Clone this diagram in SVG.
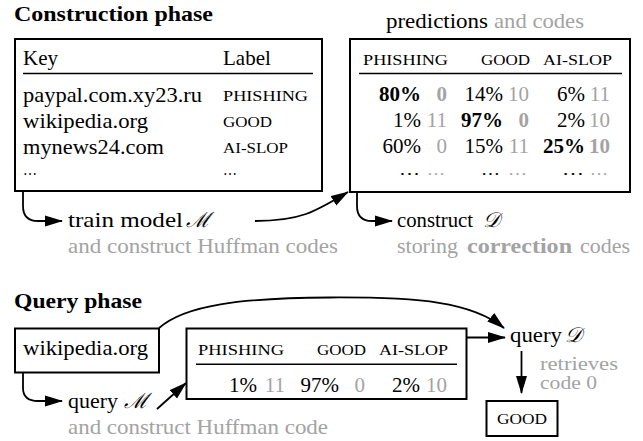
<svg xmlns="http://www.w3.org/2000/svg" width="643" height="441" viewBox="0 0 643 441" font-family="'Liberation Serif', Tinos, 'Times New Roman', 'DejaVu Serif', serif">
<defs>
<marker id="ah" viewBox="0 0 18 12" markerWidth="18" markerHeight="12" refX="17" refY="6" orient="auto" markerUnits="userSpaceOnUse">
<path d="M0,0.5 L18,6 L0,11.5 Z" fill="#000"/>
</marker>
<style>
text{font-size:21px;fill:#000}
.b{font-weight:bold}
.g{fill:#a3a3a3}
.sc{font-size:15.5px}
.d{font-size:17px}
.m{font-style:italic}
.e{text-anchor:end}
.box{fill:#fff;stroke:#000;stroke-width:2}
.rule{stroke:#000;stroke-width:1.6}
.c{fill:none;stroke:#000;stroke-width:1.8}
</style>
</defs>

<g id="construction-title"><text class="b" x="14" y="21" textLength="199" lengthAdjust="spacingAndGlyphs">Construction phase</text></g>

<g id="key-table">
<rect class="box" x="15" y="39" width="307" height="152"/>
<text x="23" y="65">Key</text>
<text x="223" y="65">Label</text>
<line class="rule" x1="23" y1="73.5" x2="313" y2="73.5"/>
<text x="23" y="101.5" textLength="179" lengthAdjust="spacingAndGlyphs">paypal.com.xy23.ru</text>
<text x="23" y="127.5" textLength="125" lengthAdjust="spacingAndGlyphs">wikipedia.org</text>
<text x="23" y="153.5" textLength="141" lengthAdjust="spacingAndGlyphs">mynews24.com</text>
<text class="d" x="23" y="175" textLength="14" lengthAdjust="spacingAndGlyphs">…</text>
<text class="sc" x="223" y="101" textLength="85" lengthAdjust="spacingAndGlyphs">PHISHING</text>
<text class="sc" x="223" y="127" textLength="49" lengthAdjust="spacingAndGlyphs">GOOD</text>
<text class="sc" x="223" y="153" textLength="65" lengthAdjust="spacingAndGlyphs">AI-SLOP</text>
<text class="d" x="223" y="175" textLength="14" lengthAdjust="spacingAndGlyphs">…</text>
</g>

<g id="pred-table">
<text x="386" y="28" textLength="102" lengthAdjust="spacingAndGlyphs">predictions</text>
<text class="g" x="494" y="28" textLength="90" lengthAdjust="spacingAndGlyphs">and codes</text>
<rect class="box" x="350" y="39" width="280" height="153"/>
<text class="sc" x="363" y="65" textLength="85" lengthAdjust="spacingAndGlyphs">PHISHING</text>
<text class="sc" x="481" y="65" textLength="49" lengthAdjust="spacingAndGlyphs">GOOD</text>
<text class="sc" x="543" y="65" textLength="69" lengthAdjust="spacingAndGlyphs">AI-SLOP</text>
<line class="rule" x1="359" y1="73.5" x2="622" y2="73.5"/>
<text class="e b" x="421" y="101">80%</text><text class="e b g" x="447" y="101">0</text>
<text class="e" x="503" y="101">14%</text><text class="e g" x="529" y="101">10</text>
<text class="e" x="585" y="101">6%</text><text class="e g" x="610" y="101">11</text>
<text class="e" x="421" y="127">1%</text><text class="e g" x="447" y="127">11</text>
<text class="e b" x="503" y="127">97%</text><text class="e b g" x="529" y="127">0</text>
<text class="e" x="585" y="127">2%</text><text class="e g" x="610" y="127">10</text>
<text class="e" x="421" y="153">60%</text><text class="e g" x="447" y="153">0</text>
<text class="e" x="503" y="153">15%</text><text class="e g" x="529" y="153">11</text>
<text class="e b" x="585" y="153">25%</text><text class="e b g" x="610" y="153">10</text>
<text class="d" x="399" y="175" textLength="21" lengthAdjust="spacingAndGlyphs">…</text><text class="d g" x="427" y="175" textLength="18" lengthAdjust="spacingAndGlyphs">…</text>
<text class="d" x="481" y="175" textLength="19" lengthAdjust="spacingAndGlyphs">…</text><text class="d g" x="508" y="175" textLength="19" lengthAdjust="spacingAndGlyphs">…</text>
<text class="d" x="562" y="175" textLength="22" lengthAdjust="spacingAndGlyphs">…</text><text class="d g" x="590" y="175" textLength="18" lengthAdjust="spacingAndGlyphs">…</text>
</g>

<g id="train-label">
<text x="68" y="226.5" textLength="115" lengthAdjust="spacingAndGlyphs">train model</text>
<text class="m" x="186" y="226.5">ℳ</text>
<text class="g" x="68" y="252.5" textLength="270" lengthAdjust="spacingAndGlyphs">and construct Huffman codes</text>
</g>

<g id="construct-label">
<text x="397" y="226.5" textLength="76" lengthAdjust="spacingAndGlyphs">construct</text>
<text class="m" x="483" y="226.5">𝒟</text>
<text class="g" x="397" y="252.5" textLength="61" lengthAdjust="spacingAndGlyphs">storing</text>
<text class="g b" x="467" y="252.5" textLength="105" lengthAdjust="spacingAndGlyphs">correction</text>
<text class="g" x="580" y="252.5" textLength="50" lengthAdjust="spacingAndGlyphs">codes</text>
</g>

<g id="query-title"><text class="b" x="14" y="308" textLength="128" lengthAdjust="spacingAndGlyphs">Query phase</text></g>

<g id="query-key">
<rect class="box" x="15" y="328.5" width="144" height="44"/>
<text x="23" y="355" textLength="125" lengthAdjust="spacingAndGlyphs">wikipedia.org</text>
</g>

<g id="query-pred">
<rect class="box" x="186.5" y="328.5" width="280" height="70.5"/>
<text class="sc" x="198" y="355" textLength="86" lengthAdjust="spacingAndGlyphs">PHISHING</text>
<text class="sc" x="317" y="355" textLength="49" lengthAdjust="spacingAndGlyphs">GOOD</text>
<text class="sc" x="379" y="355" textLength="69" lengthAdjust="spacingAndGlyphs">AI-SLOP</text>
<line class="rule" x1="196" y1="364.3" x2="457" y2="364.3"/>
<text class="e" x="257" y="391.5">1%</text><text class="e g" x="285" y="391.5">11</text>
<text class="e" x="339" y="391.5">97%</text><text class="e g" x="365" y="391.5">0</text>
<text class="e" x="420" y="391.5">2%</text><text class="e g" x="447" y="391.5">10</text>
</g>

<g id="query-m-label">
<text x="68" y="408" textLength="50" lengthAdjust="spacingAndGlyphs">query</text>
<text class="m" x="124" y="408">ℳ</text>
<text class="g" x="68" y="434" textLength="260" lengthAdjust="spacingAndGlyphs">and construct Huffman code</text>
</g>

<g id="query-d-label">
<text x="510" y="342" textLength="52" lengthAdjust="spacingAndGlyphs">query</text>
<text class="m" x="565" y="342">𝒟</text>
<text class="g" x="540" y="370" textLength="78" lengthAdjust="spacingAndGlyphs" style="font-size:19px">retrieves</text>
<text class="g" x="540" y="389" textLength="57" lengthAdjust="spacingAndGlyphs" style="font-size:19px">code 0</text>
</g>

<g id="result">
<rect class="box" x="486.5" y="401" width="71" height="35"/>
<text class="sc" x="497" y="424" textLength="50" lengthAdjust="spacingAndGlyphs">GOOD</text>
</g>

<g id="connectors">
<path class="c" d="M23,192 L23,206 Q23,221 38,221 L62,221" marker-end="url(#ah)"/>
<path class="c" d="M255,221 C300,221 315,212 348,192" marker-end="url(#ah)"/>
<path class="c" d="M357,192 L357,206 Q357,221 372,221 L392,221" marker-end="url(#ah)"/>
<path class="c" d="M23,373 L23,388 Q23,401 38,401 L62,401" marker-end="url(#ah)"/>
<path class="c" d="M157,409 L186,383" marker-end="url(#ah)"/>
<path class="c" d="M467,337.5 L505,337.5" marker-end="url(#ah)"/>
<path class="c" d="M159,328 C185,305 240,298 330,297.5 C420,297 472,302 504,328" marker-end="url(#ah)"/>
<path class="c" d="M521.5,351 L521.5,393" marker-end="url(#ah)"/>
</g>
</svg>
